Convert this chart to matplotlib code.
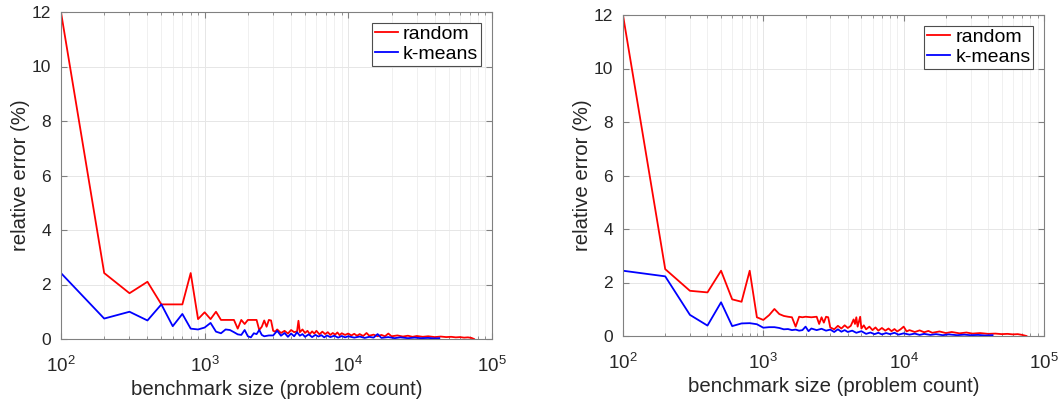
import matplotlib
matplotlib.use("Agg")
import matplotlib.pyplot as plt
from matplotlib.ticker import LogLocator, NullFormatter

plt.rcParams['font.family'] = ['Liberation Sans', 'DejaVu Sans']
plt.rcParams['mathtext.default'] = 'regular'

# --- data (benchmark size vs relative error %) ---
left_random_x = [100, 200, 300, 400, 500, 600, 700, 800, 900, 1000, 1100, 1200, 1300, 1400,
                 1500, 1600, 1700, 1800, 1900, 2000, 2100, 2200, 2300, 2400, 2500, 2600, 2700,
                 2800, 2900, 3000, 3100, 3200, 3400, 3600, 3800, 4000, 4200, 4400, 4500, 4600,
                 4800, 5000, 5200, 5400, 5600, 5800, 6000, 6300, 6600, 6900, 7200, 7500, 7800,
                 8100, 8400, 8700, 9000, 9500, 10000, 10500, 11000, 11500, 12000, 12700, 13400,
                 14000, 15000, 16000, 17000, 18000, 19000, 20000, 22000, 24000, 26000, 28000,
                 30000, 33000, 36000, 40000, 44000, 48000, 52000, 56000, 60000, 64000, 68000,
                 72000, 75000]
left_random_y = [12.0, 2.42, 1.68, 2.10, 1.27, 1.27, 1.27, 2.42, 0.73, 0.98, 0.73, 1.00, 0.70, 0.70,
                 0.70, 0.70, 0.38, 0.70, 0.55, 0.70, 0.70, 0.70, 0.70, 0.33, 0.45, 0.68, 0.45,
                 0.70, 0.68, 0.30, 0.27, 0.35, 0.22, 0.30, 0.20, 0.33, 0.25, 0.28, 0.67, 0.25,
                 0.35, 0.22, 0.30, 0.18, 0.28, 0.20, 0.30, 0.17, 0.27, 0.18, 0.25, 0.15, 0.22,
                 0.16, 0.24, 0.14, 0.21, 0.15, 0.20, 0.13, 0.19, 0.12, 0.18, 0.11, 0.22,
                 0.12, 0.16, 0.10, 0.15, 0.10, 0.20, 0.10, 0.13, 0.09, 0.12, 0.08,
                 0.11, 0.08, 0.10, 0.07, 0.09, 0.07, 0.08, 0.06, 0.07, 0.05, 0.06,
                 0.04, 0.0]

left_kmeans_x = [100, 200, 300, 400, 500, 600, 700, 800, 900, 1000, 1100, 1200, 1300, 1400,
                 1500, 1600, 1700, 1800, 1900, 2000, 2100, 2200, 2300, 2400, 2500, 2600, 2800,
                 3000, 3200, 3400, 3600, 3800, 4000, 4200, 4400, 4600, 4800, 5000, 5300, 5600,
                 5900, 6200, 6500, 6800, 7100, 7500, 8000, 8500, 9000, 9500, 10000, 11000,
                 12000, 13000, 14000, 15000, 16000, 17000, 19000, 21000, 23000, 26000, 29000,
                 32000, 36000, 40000, 43000]
left_kmeans_y = [2.42, 0.75, 1.00, 0.68, 1.27, 0.47, 0.92, 0.38, 0.35, 0.42, 0.59, 0.27, 0.21, 0.35,
                 0.33, 0.25, 0.17, 0.15, 0.33, 0.10, 0.06, 0.21, 0.18, 0.33, 0.15, 0.10, 0.13,
                 0.13, 0.30, 0.12, 0.22, 0.08, 0.20, 0.10, 0.25, 0.12, 0.18, 0.08, 0.17, 0.07,
                 0.15, 0.09, 0.14, 0.06, 0.13, 0.07, 0.12, 0.05, 0.11, 0.06, 0.10, 0.05,
                 0.09, 0.04, 0.08, 0.05, 0.18, 0.04, 0.07, 0.03, 0.06, 0.03, 0.05,
                 0.03, 0.04, 0.02, 0.03]

right_random_x = [100, 200, 300, 400, 500, 600, 700, 800, 900, 1000, 1100, 1200, 1300, 1400,
                  1500, 1600, 1700, 1800, 1900, 2000, 2200, 2400, 2500, 2600, 2700, 2800, 2900,
                  3000, 3200, 3400, 3600, 3800, 4000, 4200, 4400, 4500, 4600, 4700, 4900, 5000,
                  5200, 5400, 5700, 6000, 6300, 6600, 7000, 7400, 7800, 8200, 8600, 9000, 9500,
                  10000, 10500, 11000, 12000, 13000, 14000, 15000, 16000, 18000, 20000, 22000,
                  25000, 28000, 31000, 35000, 40000, 45000, 50000, 55000, 60000, 65000, 70000,
                  75000]
right_random_y = [12.0, 2.50, 1.69, 1.63, 2.44, 1.37, 1.28, 2.44, 0.70, 0.60, 0.78, 1.01, 0.82, 0.75,
                  0.72, 0.70, 0.35, 0.72, 0.70, 0.72, 0.70, 0.72, 0.45, 0.70, 0.50, 0.72, 0.70,
                  0.32, 0.25, 0.38, 0.28, 0.40, 0.30, 0.38, 0.62, 0.45, 0.70, 0.35, 0.72, 0.28,
                  0.40, 0.25, 0.35, 0.22, 0.32, 0.20, 0.30, 0.20, 0.28, 0.18, 0.26, 0.17, 0.25,
                  0.35, 0.17, 0.22, 0.15, 0.21, 0.14, 0.19, 0.12, 0.17, 0.11, 0.15,
                  0.10, 0.13, 0.09, 0.11, 0.08, 0.09, 0.07, 0.08, 0.06, 0.07, 0.04,
                  0.0]

right_kmeans_x = [100, 200, 300, 400, 500, 600, 700, 800, 900, 1000, 1100, 1200, 1300, 1400,
                  1500, 1600, 1700, 1800, 1900, 2000, 2100, 2200, 2400, 2600, 2800, 3000, 3200,
                  3400, 3600, 3800, 4000, 4300, 4600, 5000, 5400, 5800, 6200, 6600, 7000, 7500,
                  8000, 8600, 9200, 10000, 11000, 12000, 13000, 14000, 15500, 17000, 19000,
                  21000, 24000, 27000, 30000, 34000, 38000, 43000]
right_kmeans_y = [2.44, 2.23, 0.79, 0.39, 1.26, 0.37, 0.47, 0.48, 0.44, 0.31, 0.33, 0.33, 0.30, 0.25,
                  0.26, 0.22, 0.24, 0.20, 0.22, 0.35, 0.18, 0.28, 0.22, 0.27, 0.20, 0.24, 0.15,
                  0.25, 0.16, 0.22, 0.15, 0.20, 0.12, 0.18, 0.08, 0.13, 0.07, 0.12, 0.06, 0.11,
                  0.07, 0.12, 0.05, 0.10, 0.05, 0.09, 0.04, 0.08, 0.04, 0.07, 0.03,
                  0.06, 0.03, 0.05, 0.03, 0.04, 0.02, 0.03]

panels = [
    (left_random_x, left_random_y, left_kmeans_x, left_kmeans_y),
    (right_random_x, right_random_y, right_kmeans_x, right_kmeans_y),
]
positions = [[0.0575, 0.1525, 0.4066, 0.8175], [0.5877, 0.16, 0.3972, 0.8025]]

text_color = '#262626'
axis_color = '#808080'

fig = plt.figure(figsize=(10.6, 4.0), dpi=100)

for (rx, ry, kx, ky), pos in zip(panels, positions):
    ax = fig.add_axes(pos)
    ax.plot(rx, ry, color='#ff0000', lw=1.3, label='random')
    ax.plot(kx, ky, color='#0000ff', lw=1.3, label='k-means')
    ax.set_xscale('log')
    ax.set_xlim(100, 1e5)
    ax.set_ylim(0, 12)
    ax.set_yticks(range(0, 13, 2))
    ax.xaxis.set_minor_locator(LogLocator(base=10, subs=range(2, 10)))
    ax.xaxis.set_minor_formatter(NullFormatter())
    ax.grid(True, which='major', color='#e6e6e6', lw=0.7)
    ax.grid(True, which='minor', axis='x', color='#eeeeee', lw=0.6)
    ax.set_axisbelow(True)
    for s in ax.spines.values():
        s.set_color(axis_color)
        s.set_linewidth(0.8)
    ax.tick_params(which='both', direction='in', top=True, right=True,
                   color=axis_color, labelcolor=text_color)
    ax.tick_params(which='major', length=4)
    ax.tick_params(which='minor', length=2)
    ax.tick_params(axis='y', labelsize=12.5, pad=7)
    ax.tick_params(axis='x', labelsize=13.5, pad=12)
    ax.set_xlabel('benchmark size (problem count)', fontsize=14.7, color=text_color, labelpad=3)
    ax.set_ylabel('relative error (%)', fontsize=14.7, color=text_color, labelpad=1.5)
    leg = ax.legend(loc='upper right', fontsize=14, fancybox=False, framealpha=1,
                    edgecolor='#4d4d4d', handlelength=1.2, handletextpad=0.25,
                    borderpad=0.15, labelspacing=0.1, borderaxespad=0.55)
    leg.get_frame().set_linewidth(0.8)

fig.savefig('out.png', dpi=100)
